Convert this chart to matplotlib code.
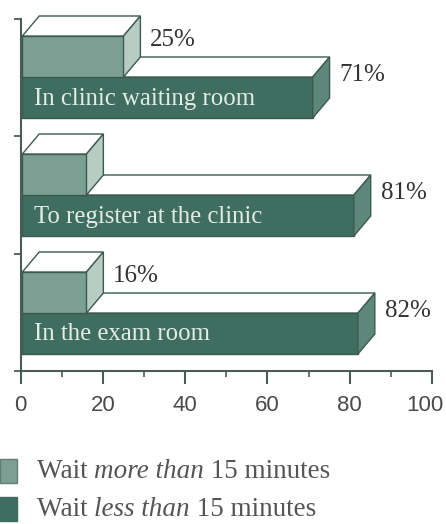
import matplotlib
matplotlib.use("Agg")
import matplotlib.pyplot as plt
import matplotlib.transforms as mtransforms
from matplotlib.patches import Polygon, Rectangle

# ====== Data ======
categories = ["In clinic waiting room", "To register at the clinic", "In the exam room"]
wait_more = [25, 16, 16]
wait_less = [71, 81, 82]
more_labels = ["25%", "", "16%"]
less_labels = ["71%", "81%", "82%"]
xticks = [0, 20, 40, 60, 80, 100]

# ====== Style ======
light_front = "#7c9f93"
light_side = "#b7ccc3"
dark_front = "#3f6e61"
dark_side = "#5d877b"
top_col = "#ffffff"
edge = "#3c5a50"
axis_col = "#4a5c55"
serif = ["Liberation Serif", "DejaVu Serif"]
sans = ["Liberation Sans", "DejaVu Sans"]

fig = plt.figure(figsize=(4.46, 5.24), dpi=100)
ax = fig.add_axes([20.7 / 446, 153 / 524, 411.3 / 446, 352 / 524])
ax.set_xlim(0, 100)
ax.set_ylim(0, 352)

dx, dy = 4.1, 20      # 3D depth in data units
h = 41                # front face height
x0 = 0.4


def bar3d(y0, value, front, side):
    # front face
    ax.add_patch(Rectangle((x0, y0), value - x0, h, facecolor=front,
                           edgecolor=edge, lw=1.0, zorder=2, clip_on=False))
    # top face
    ax.add_patch(Polygon([(x0, y0 + h), (x0 + dx, y0 + h + dy),
                          (value + dx, y0 + h + dy), (value, y0 + h)],
                         closed=True, facecolor=top_col, edgecolor=edge,
                         lw=1.0, zorder=2, clip_on=False))
    # side face
    ax.add_patch(Polygon([(value, y0), (value + dx, y0 + dy),
                          (value + dx, y0 + h + dy), (value, y0 + h)],
                         closed=True, facecolor=side, edgecolor=edge,
                         lw=1.0, zorder=2, clip_on=False))


n = len(categories)
for i, cat in enumerate(categories):
    base = 17 + 118 * (n - 1 - i)
    bar3d(base, wait_less[i], dark_front, dark_side)
    bar3d(base + h, wait_more[i], light_front, light_side)
    ax.text(3.3, base + h / 2 - 1, cat, color="#e4ece8", fontsize=17.8,
            family=serif, va="center", ha="left", zorder=3)
    ax.text(wait_less[i] + dx + 2.4, base + h + 2, less_labels[i],
            color="#333333", fontsize=18, family=serif, va="center", zorder=3)
    if more_labels[i]:
        ax.text(wait_more[i] + dx + 2.2, base + 2 * h - 4, more_labels[i],
                color="#333333", fontsize=18, family=serif, va="center", zorder=3)

# ====== Axes styling ======
for s in ["top", "right"]:
    ax.spines[s].set_visible(False)
for s in ["left", "bottom"]:
    ax.spines[s].set_color(axis_col)
    ax.spines[s].set_linewidth(1.5)

ax.set_xticks(xticks)
ax.set_xticklabels([str(t) for t in xticks], family=sans, fontsize=16,
                   color="#4a4a4a")
ax.set_xticks(range(10, 100, 20), minor=True)
ax.tick_params(axis="x", which="major", length=9, width=1.5, color=axis_col,
               direction="out", pad=8)
ax.tick_params(axis="x", which="minor", length=4.5, width=1.2, color=axis_col,
               direction="out")
# the last label sits a bit to the left so it stays on the page
last = ax.get_xticklabels()[-1]
last.set_transform(last.get_transform() +
                   mtransforms.ScaledTranslation(-5 / 72, 0, fig.dpi_scale_trans))

ax.set_yticks([0, 117, 235, 352])
ax.set_yticklabels([])
ax.tick_params(axis="y", length=5, width=1.3, color=axis_col, direction="out")

# ====== Legend ======
fig.patches.append(Rectangle((0, 1 - 483 / 524), 17 / 446, 24 / 524,
                             transform=fig.transFigure, facecolor=light_front,
                             edgecolor="#5f7d72", lw=1))
fig.patches.append(Rectangle((0, 1 - 521 / 524), 17 / 446, 24 / 524,
                             transform=fig.transFigure, facecolor=dark_front,
                             edgecolor=dark_front, lw=1))

fig.canvas.draw()
renderer = fig.canvas.get_renderer()


def rich_line(x, y, pieces):
    for txt, style in pieces:
        t = fig.text(x, y, txt, family=serif, style=style, fontsize=19.5,
                     color="#555555", va="center", ha="left")
        bb = t.get_window_extent(renderer=renderer)
        x += bb.width / fig.bbox.width


rich_line(37 / 446, 1 - 471 / 524,
          [("Wait ", "normal"), ("more than", "italic"), (" 15 minutes", "normal")])
rich_line(37 / 446, 1 - 509 / 524,
          [("Wait ", "normal"), ("less than", "italic"), (" 15 minutes", "normal")])

fig.savefig("out.png", dpi=100)
